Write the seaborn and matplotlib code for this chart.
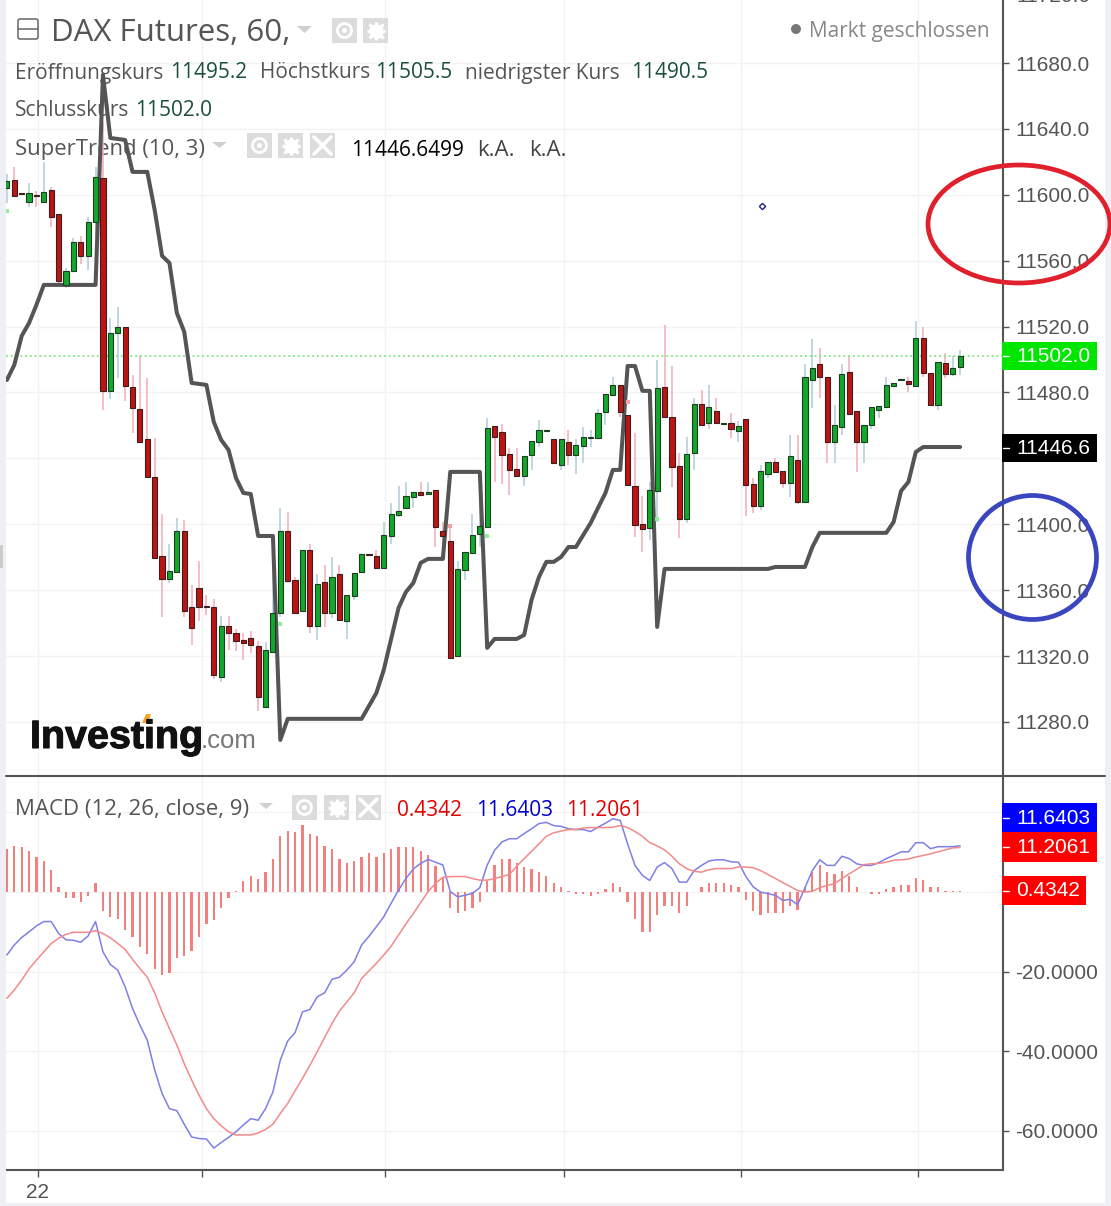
import numpy as np
import matplotlib
matplotlib.use("Agg")
import matplotlib.pyplot as plt
import seaborn as sns
from matplotlib.patches import Rectangle, Ellipse, Circle, FancyBboxPatch, Polygon
import matplotlib.patheffects as pe

# candles
opens = [11604.2, 11609, 11601.1, 11595.7, 11599.9, 11595.7, 11603, 11588.4, 11545.3, 11553.8,
         11571.4, 11562.9, 11583.5, 11610.3, 11481, 11516.2, 11519.8, 11483.4, 11470, 11451.8,
         11428.8, 11380.8, 11366.8, 11371.1, 11396, 11349.9, 11361.4, 11350.5, 11349.9, 11307.4,
         11338.3, 11334, 11329.8, 11331, 11326.2, 11289.1, 11322.5, 11346.2, 11396, 11366.2,
         11347.4, 11384.4, 11338.3, 11365, 11346.2, 11369.9, 11341.3, 11356.5, 11371.1, 11382,
         11380.8, 11373.5, 11393, 11405.7, 11409.9, 11416.6, 11419.6, 11418.4, 11420.8, 11396,
         11389.9, 11320.1, 11372.3, 11382.6, 11394.2, 11398.4, 11459.7, 11456, 11442.7, 11433.6,
         11429.4, 11442.1, 11450, 11456.7, 11451.8, 11436, 11450, 11442.1, 11447.6, 11452.4,
         11452.4, 11468.2, 11478.5, 11484.6, 11466.4, 11423.3, 11400.2, 11397.8, 11420.3, 11483.4,
         11465.2, 11435.4, 11403.3, 11443.3, 11473, 11461.5, 11468.8, 11460.9, 11461.5, 11456.7,
         11464, 11424.5, 11411.2, 11430.6, 11437.9, 11432.4, 11425.1, 11439.1, 11413.6, 11487.6,
         11497.4, 11489.5, 11450, 11459.1, 11492.5, 11468.8, 11450, 11460.3, 11469.4, 11471.2,
         11484, 11487.6, 11487, 11484, 11513.1, 11491.9, 11472.4, 11498, 11491.3, 11495.2]
closes = [11608.4, 11599.3, 11600.5, 11601.1, 11599.3, 11601.8, 11586.6, 11547.7, 11553.8, 11571.4,
          11562.9, 11583.5, 11610.9, 11481, 11516.2, 11519.8, 11484, 11470.6, 11450, 11428.8,
          11379.6, 11366.8, 11371.7, 11396, 11347.4, 11337.1, 11349.9, 11349.9, 11308.5, 11338.3,
          11334, 11329.2, 11328, 11326.8, 11295.2, 11323.7, 11346.2, 11396, 11365.6, 11346.2,
          11384.4, 11338.3, 11363.8, 11346.2, 11368, 11342, 11357.1, 11370.5, 11382, 11381.4,
          11373.5, 11393.6, 11406.3, 11408.1, 11417.2, 11419.6, 11417.8, 11419.6, 11398.4, 11393,
          11318.9, 11372.9, 11383.2, 11393.6, 11399, 11458.5, 11453, 11442.1, 11433, 11429.4,
          11441.5, 11450.6, 11457.3, 11457.3, 11437.3, 11451.8, 11442.1, 11448.2, 11453, 11453,
          11467.6, 11479.1, 11484.6, 11468.2, 11423.9, 11399.6, 11397.2, 11420.8, 11482.8, 11465.2,
          11434.8, 11403.3, 11442.7, 11473, 11460.3, 11471.2, 11461.5, 11461.5, 11457.9, 11459.7,
          11423.9, 11411.2, 11432.4, 11437.9, 11431.8, 11425.1, 11441.5, 11413.6, 11489.5, 11494.9,
          11489.5, 11450, 11460.3, 11491.3, 11467, 11450, 11460.3, 11471.2, 11471.9, 11484.6,
          11485.8, 11488.2, 11485.2, 11513.1, 11491.9, 11472.4, 11498.6, 11491.3, 11494.9, 11502]
highs = [11612.7, 11617, 11601.1, 11607.2, 11602.4, 11620, 11604.8, 11588.4, 11555.6, 11573.8,
         11575, 11586.6, 11617, 11643.6, 11525.2, 11531.9, 11519.8, 11490.7, 11502.8, 11488.9,
         11452.4, 11406.3, 11388.1, 11403.9, 11402.7, 11363.2, 11377.8, 11357.1, 11354.7, 11344.4,
         11344.4, 11336.5, 11334, 11335.3, 11329.2, 11328.6, 11375.3, 11410, 11407.5, 11368,
         11384.4, 11388.1, 11369.9, 11375.3, 11380.2, 11375.3, 11357.1, 11370.5, 11382, 11382,
         11384.4, 11401.4, 11413, 11423.3, 11425.7, 11419.6, 11425.7, 11425.7, 11420.8, 11401.4,
         11398.4, 11377.8, 11383.2, 11406.3, 11413, 11464.6, 11459.7, 11460.9, 11446.4, 11446.4,
         11441.5, 11450.6, 11463.4, 11457.3, 11451.8, 11451.8, 11457.3, 11451.8, 11459.1, 11457.3,
         11470, 11479.1, 11489.5, 11484.6, 11466.4, 11455.5, 11417.2, 11425.7, 11499.8, 11521,
         11496.1, 11443.3, 11453, 11476.7, 11481.6, 11484.6, 11476.7, 11461.5, 11467.6, 11462.7,
         11464, 11428.1, 11436, 11437.9, 11440.3, 11432.4, 11454.2, 11454.2, 11497.4, 11512.5,
         11507, 11489.5, 11472.5, 11497.4, 11502.2, 11468.8, 11460.3, 11471.2, 11471.9, 11489.5,
         11485.8, 11488.2, 11489.5, 11523.4, 11519.8, 11491.9, 11498.6, 11504, 11502.2, 11505.5]
lows = [11595.1, 11598.7, 11600.5, 11592.6, 11592.6, 11595.1, 11580.5, 11546.5, 11543.5, 11553.2,
        11558, 11554.4, 11574.4, 11469.4, 11476.1, 11488.9, 11474.9, 11455.5, 11449.4, 11428.8,
        11379.6, 11343.8, 11364.4, 11371.1, 11343.8, 11326.8, 11341.3, 11345, 11306.1, 11304.3,
        11323.7, 11323.1, 11317.7, 11321.9, 11286.7, 11289.1, 11322.5, 11343.8, 11364.4, 11345.6,
        11347.4, 11334, 11329.8, 11337.7, 11343.2, 11342, 11330.4, 11354.1, 11371.1, 11381.4,
        11373.5, 11373.5, 11388.1, 11404.5, 11409.9, 11409.9, 11417.8, 11417.8, 11386.3, 11381.4,
        11318.9, 11320.1, 11366.2, 11382.6, 11386.3, 11398.4, 11425.7, 11424.5, 11417.8, 11429.4,
        11423.3, 11433, 11447, 11456.7, 11437.3, 11433, 11436, 11430.6, 11437.3, 11447,
        11452.4, 11460.3, 11478.5, 11465.2, 11423.9, 11392.3, 11383.2, 11390.5, 11401.4, 11465.2,
        11422.7, 11391.7, 11400.8, 11433, 11460.3, 11457.9, 11461.5, 11460.9, 11452.4, 11450,
        11405.1, 11406.9, 11408.7, 11428.1, 11431.8, 11422.1, 11416.6, 11412.4, 11413.6, 11470.6,
        11476.7, 11437.3, 11437.3, 11454.2, 11467, 11431.8, 11437.3, 11457.9, 11464.6, 11470.6,
        11484, 11487.6, 11480.3, 11484, 11489.5, 11472.4, 11469.4, 11488.9, 11490.1, 11490.5]

# supertrend vertices
st_idx = [0, 1, 2, 3, 4, 5, 12, 13, 14, 16, 17, 19, 20, 21, 22, 23, 24, 25, 27, 28, 29, 30, 31, 32,
          33, 34, 36, 37, 38, 48, 50, 51, 53, 54, 55, 56, 57, 59, 60, 64, 65, 66, 69, 70, 71, 72,
          73, 74, 75, 76, 77, 79, 80, 81, 82, 83, 84, 85, 86, 87, 88, 89, 103, 104, 108, 109, 110,
          119, 120, 121, 122, 123, 124, 129]
st_val = [11487.6, 11496.7, 11514.3, 11522.2, 11533.2, 11545.3, 11545.3, 11672.8, 11634.5, 11633.3,
          11613.9, 11613.9, 11590.8, 11562.9, 11558.6, 11528.3, 11516.8, 11485.8, 11484.6, 11462.1,
          11451.2, 11445.1, 11428.1, 11419, 11418.4, 11392.9, 11392.9, 11269.1, 11281.9, 11281.9,
          11297.6, 11311.6, 11349.2, 11358.9, 11364.4, 11376.6, 11379, 11379, 11431.8, 11431.8,
          11325, 11330.4, 11330.4, 11332.8, 11354.1, 11368, 11377.2, 11377.2, 11380.2, 11386.2,
          11386.2, 11400.8, 11410, 11419, 11433, 11433, 11496.1, 11496.1, 11481, 11481, 11337.7,
          11372.9, 11372.9, 11374.1, 11374.1, 11386.2, 11394.8, 11394.8, 11401.4, 11420.2, 11425.7,
          11443.9, 11446.9, 11446.9]

buy_idx = [0, 37, 65, 88]
buy_val = [11590.2, 11339.5, 11392.9, 11403.3]
sell_idx = [60, 84]
sell_val = [11399, 11474.3]

# macd pane
macd_hist = [10.7, 11.6, 11.2, 10.3, 8.8, 7.9, 5.5, 1.3, -1.4, -1.4,
             -2.4, -0.9, 2.2, -4.7, -6.2, -6.7, -9.5, -11.3, -13.7, -15.6,
             -19.3, -20.8, -20.3, -16.5, -16, -14.7, -11.3, -8, -7, -3.9,
             -1.6, 0.3, 2.7, 4.1, 3.2, 5.1, 8.4, 14.1, 15.4, 15,
             16.8, 14.5, 14.1, 11.6, 10.7, 8.4, 7.4, 7.9, 8.8, 9.7,
             8.8, 9.7, 10.7, 11.2, 11.2, 11.2, 10.3, 9.3, 6.5, 3.7,
             -3.9, -5.2, -4.8, -3.9, -2.5, 2.9, 6.9, 8.2, 8.2, 7.4,
             6.4, 5.9, 5, 4.1, 2.2, 1.3, 0.3, -0.4, -0.4, -1,
             -0.4, 0.8, 2.2, 1.3, -2.5, -6.7, -10, -10, -5.8, -3.4,
             -3.4, -5.3, -3.4, 0, 1.3, 2.2, 2.2, 2.2, 1.7, 1.3,
             -2.1, -4.8, -5.8, -5.3, -5.3, -5.3, -3.4, -4.4, 1.3, 5,
             6.9, 5, 4.5, 5.4, 4.1, 1.3, 0, -0.5, -0.5, 0.7,
             1.3, 1.7, 1.7, 3.6, 3.1, 1.3, 1.3, 0.3, 0.3, 0.3]
macd_line = [-15.8, -13.3, -11.4, -10, -8.5, -7.4, -7.4, -10.4, -12, -12.1,
             -12.6, -11, -7.4, -15, -18.2, -19.6, -23.8, -29.2, -33.4, -37.2,
             -44.7, -50.6, -54.4, -54.9, -58.3, -61.5, -61.9, -62, -64.3, -62.9,
             -61.6, -60.2, -58.5, -56.9, -57.3, -54.4, -50.2, -42.2, -37.4, -35.3,
             -30.1, -29.5, -26.3, -25.3, -21.9, -21.4, -19.6, -17.5, -13.3, -11.1,
             -8.7, -6.2, -2.8, 0.5, 3.4, 5.8, 7.2, 8.2, 7.5, 6.8,
             0.1, -1.2, -0.8, -0.3, 1.1, 6.8, 10.5, 12.6, 13.4, 13.4,
             14.7, 15.9, 17.2, 17.5, 16.7, 16.5, 15.9, 15.7, 15.7, 15.2,
             16.3, 17.3, 18.4, 18, 12.1, 6.7, 4.2, 2.9, 6.3, 7.4,
             5.9, 2.5, 2.5, 5.4, 6.7, 7.8, 8.1, 8.1, 7.6, 7.5,
             3.9, 1.3, 0, -0.4, -0.8, -2.1, -1.8, -3.2, 1.1, 5.4,
             8.1, 6.7, 6.7, 9, 8.4, 7.1, 6.7, 6.7, 7.4, 8.4,
             9.2, 10.1, 10.1, 12.4, 12.4, 10.9, 11.4, 11.4, 11.4, 11.6403]
signal_line = [-26.7, -24.6, -22.1, -19.3, -17.1, -15, -12.9, -11.6, -10.6, -10.1,
               -10.1, -10.1, -9.7, -10.4, -11.5, -12.9, -14.4, -16.9, -19.2, -21.4,
               -25.3, -30.1, -34.3, -38.4, -43.1, -47.2, -51, -54.4, -56.9, -58.7,
               -60.2, -61, -61, -61, -60.5, -59.6, -58.3, -55.6, -53.1, -49.9,
               -46.8, -43.5, -40.1, -36.5, -33, -29.9, -27.6, -25.3, -21.7, -19.8,
               -17.9, -15.8, -13.6, -10.8, -8, -5.4, -2.6, 0.1, 2.2, 3.7,
               3.9, 3.9, 3.9, 3.4, 3, 3, 3.4, 3.9, 4.4, 6.5,
               8.4, 10.2, 12.1, 14, 14.9, 15.3, 15.7, 15.7, 16.1, 16.2,
               16.2, 16.2, 16.3, 16.7, 16.2, 15.2, 14, 12.4, 11.6, 10.6,
               9, 7.1, 5.9, 5.2, 5, 5.6, 5.9, 5.9, 5.9, 6.3,
               6.3, 6.1, 5.4, 4.4, 3.4, 2.4, 1.4, 0.4, 0, 0.2,
               1.1, 1.7, 2.1, 3.4, 4.6, 5.7, 6.9, 7.1, 7.2, 7.5,
               8, 8.1, 8.3, 8.8, 9.2, 9.6, 10.1, 10.6, 11.1, 11.2061]

price_ticks = [11280, 11320, 11360, 11400, 11440, 11480, 11520, 11560, 11600, 11640, 11680]
price_labels = ["11280.0", "11320.0", "11360.0", "11400.0", "", "11480.0", "11520.0", "11560.0",
                "11600.0", "11640.0", "11680.0"]
macd_ticks = [20, 0, -20, -40, -60]
macd_labels = ["", "", "-20.0000", "-40.0000", "-60.0000"]
time_ticks = [4.2, 26.4, 51.2, 75.4, 99.3, 123.3]
time_labels = ["22", "", "", "", "", ""]

W, H = 1111, 1206
TXT = "#555555"
AXIS_FS = 15
sns.set_theme(style="white")
plt.rcParams["font.family"] = ["Liberation Sans", "DejaVu Sans"]

fig = plt.figure(figsize=(W / 100, H / 100), dpi=100, facecolor="white")


def pixel_axes(z):
    a = fig.add_axes([0, 0, 1, 1], zorder=z)
    a.set_xlim(0, W)
    a.set_ylim(H, 0)
    a.axis("off")
    a.patch.set_alpha(0)
    return a


price_pos = [6 / W, (H - 776) / H, 997 / W, 776 / H]
macd_pos = [6 / W, (H - 1170) / H, 997 / W, 393 / H]
xlims = (-0.12, 134.8)
price_lims = (11247.2, 11718.25)
macd_lims = (-69.8, 28.9)

# grid goes in its own axes below the legend text
for pos, yl, yt in ((price_pos, price_lims, price_ticks), (macd_pos, macd_lims, macd_ticks)):
    g = fig.add_axes(pos, zorder=-1)
    g.set_xlim(*xlims)
    g.set_ylim(*yl)
    g.set_xticks(time_ticks, [""] * 6)
    g.set_yticks(yt, [""] * len(yt))
    g.tick_params(left=False, bottom=False)
    g.grid(True, color="#f3f3f6", lw=1)
    for s in g.spines.values():
        s.set_visible(False)

under = pixel_axes(0)
over = pixel_axes(5)

ax = fig.add_axes(price_pos, zorder=2)
ax2 = fig.add_axes(macd_pos, zorder=2)
ax.patch.set_alpha(0)
ax2.patch.set_alpha(0)

idx = np.arange(len(opens))
opens_a, closes_a = np.array(opens), np.array(closes)
up = closes_a >= opens_a
body_low = np.minimum(opens_a, closes_a)
body_h = np.abs(closes_a - opens_a)

ax.vlines(idx[up], np.array(lows)[up], np.array(highs)[up], color="#b5cfdb", lw=1.2, zorder=1)
ax.vlines(idx[~up], np.array(lows)[~up], np.array(highs)[~up], color="#f2b3bb", lw=1.2, zorder=1)
sns.lineplot(x=st_idx, y=st_val, ax=ax, color="#555555", lw=2.9, estimator=None, sort=False, zorder=2)
ax.bar(idx[up], body_h[up], bottom=body_low[up], width=0.7, color="#12a82c", edgecolor="#1d3d20", lw=0.8, zorder=3)
ax.bar(idx[~up], body_h[~up], bottom=body_low[~up], width=0.7, color="#bd1414", edgecolor="#3d1d1d", lw=0.8, zorder=3)
sns.scatterplot(x=buy_idx, y=buy_val, ax=ax, color="#8ff09a", marker="s", s=7, linewidth=0, zorder=2)
sns.scatterplot(x=sell_idx, y=sell_val, ax=ax, color="#f7a0a8", marker="s", s=7, linewidth=0, zorder=2)
ax.plot([102.2], [11593.2], marker="D", ms=3.2, mfc="white", mec="#20208a", mew=1, zorder=4)
ax.axhline(11502, color="#7be87b", lw=1.3, ls=":", zorder=1)

sns.barplot(x=idx, y=macd_hist, ax=ax2, native_scale=True, color="#f47f7f", saturation=1,
            width=0.31, linewidth=0, zorder=2)
sns.lineplot(x=idx, y=macd_line, ax=ax2, color="#7f7fe6", lw=1.1, estimator=None, zorder=3)
sns.lineplot(x=idx, y=signal_line, ax=ax2, color="#f28a8a", lw=1.1, estimator=None, zorder=3)

ax.set_xlim(*xlims)
ax2.set_xlim(*xlims)
ax.set_ylim(*price_lims)
ax2.set_ylim(*macd_lims)

for a in (ax, ax2):
    a.set_xlabel("")
    a.set_ylabel("")
    a.yaxis.tick_right()
    a.grid(False)
    for s in a.spines.values():
        s.set_visible(False)
    a.spines["right"].set_visible(True)
    a.spines["right"].set_color(TXT)
    a.spines["right"].set_linewidth(1.5)
    a.tick_params(axis="y", right=True, left=False, length=4.3, width=1, color=TXT, pad=4.5,
                  labelsize=AXIS_FS, labelcolor=TXT)

ax.set_yticks(price_ticks, price_labels)
ax.set_xticks(time_ticks, [""] * 6)
ax.tick_params(axis="x", bottom=False)
ax2.set_yticks(macd_ticks, macd_labels)
ax2.set_xticks(time_ticks, time_labels)
ax2.spines["bottom"].set_visible(True)
ax2.spines["bottom"].set_color(TXT)
ax2.spines["bottom"].set_linewidth(1.5)
ax2.tick_params(axis="x", bottom=True, length=5, width=1, color=TXT, pad=4, labelsize=AXIS_FS,
                labelcolor=TXT)


# legend text sits under the chart lines
def ltext(x, y, s, color=TXT, size=15):
    under.text(x, y, s, color=color, fontsize=size, family="Open Sans", va="center", ha="left")


def triangle(x0, x1, y0, y1):
    under.add_patch(Polygon([(x0, y0), (x1, y0), ((x0 + x1) / 2, y1)], color="#cfcfcf", lw=0))


def icon_box(x, y, kind):
    under.add_patch(Rectangle((x, y), 25, 25, color="#dcdcdc", lw=0))
    cx, cy = x + 12.5, y + 12.5
    if kind == "eye":
        under.add_patch(Circle((cx, cy), 7, fc="none", ec="white", lw=2))
        under.add_patch(Circle((cx, cy), 2.5, fc="white", lw=0))
    elif kind == "gear":
        under.plot([cx], [cy], marker="8", ms=9.5, mfc="white", mec="white", ls="")
        under.plot([cx], [cy], marker="+", ms=13, mec="white", mew=2.4, ls="")
        under.plot([cx], [cy], marker="x", ms=10.5, mec="white", mew=2.4, ls="")
        under.add_patch(Circle((cx, cy), 2.8, fc="#dcdcdc", lw=0))
    else:
        under.plot([x + 4, x + 21], [y + 4, y + 21], color="white", lw=2.6)
        under.plot([x + 4, x + 21], [y + 21, y + 4], color="white", lw=2.6)


GREEN_NUM = "#1b4f3d"
under.add_patch(FancyBboxPatch((18, 19), 20, 20, boxstyle="round,pad=0,rounding_size=2",
                               fc="white", ec="#666666", lw=1.1))
under.plot([18, 38], [29, 29], color="#666666", lw=1.1)
ltext(51, 33, "DAX Futures, 60,", size=22.5)
triangle(297, 312, 26, 33)
icon_box(332, 18, "eye")
icon_box(363, 18, "gear")
under.add_patch(Circle((796, 29), 5, fc="#777777", lw=0))
ltext(809, 31, "Markt geschlossen", color="#888888", size=15)

ltext(15, 73, "Eröffnungskurs")
ltext(170, 73, "11495.2", GREEN_NUM)
ltext(260, 73, "Höchstkurs")
ltext(375, 73, "11505.5", GREEN_NUM)
ltext(465, 73, "niedrigster Kurs")
ltext(631, 73, "11490.5", GREEN_NUM)
ltext(15, 111, "Schlusskurs")
ltext(135, 111, "11502.0", GREEN_NUM)
ltext(15, 150, "SuperTrend (10, 3)", size=15.9)
triangle(212, 227, 142, 148)
icon_box(247, 133, "eye")
icon_box(278, 133, "gear")
icon_box(310, 133, "x")
ltext(351, 150, "11446.6499", "black")
ltext(477, 150, "k.A.", "#444444", size=16)
ltext(529, 150, "k.A.", "#444444", size=16)

ltext(15, 810, "MACD (12, 26, close, 9)", size=16)
triangle(259, 273, 803, 809)
icon_box(292, 795, "eye")
icon_box(324, 795, "gear")
icon_box(356, 795, "x")
ltext(397, 811, "0.4342", "#e00000")
ltext(476, 811, "11.6403", "#0000cc")
ltext(566, 811, "11.2061", "#e00000")

# page edges and pane divider
over.add_patch(Rectangle((0, 0), 6, H, color="#eef0f5", lw=0))
over.add_patch(Rectangle((1105, 0), 6, H, color="#eef0f5", lw=0))
over.add_patch(Rectangle((0, 1203), W, 3, color="#eef0f5", lw=0))
over.add_patch(Rectangle((0, 545), 3, 23, color="#cccccc", lw=0))
over.plot([6, 1105], [776, 776], color=TXT, lw=1.5)
over.text(1016, -3, "11720.0", color=TXT, fontsize=AXIS_FS, va="center", ha="left")


def tag(x0, x1, y0, y1, color, s):
    over.add_patch(Rectangle((x0, y0), x1 - x0, y1 - y0, color=color, lw=0))
    ym = (y0 + y1) / 2
    over.plot([x0 + 1, x0 + 7], [ym, ym], color="white", lw=1)
    over.text(1016, ym + 0.5, s, color="white", fontsize=AXIS_FS, va="center", ha="left")


tag(1002, 1097, 342, 370, "#00e600", "11502.0")
tag(1002, 1097, 434, 462, "black", "11446.6")
tag(1002, 1097, 803, 832, "#0000ff", "11.6403")
tag(1002, 1097, 832, 862, "#ff0000", "11.2061")
tag(1002, 1086, 876, 905, "#ff0000", "0.4342")

over.add_patch(Ellipse((1019, 224), 182, 118, fc="none", ec="#e0202c", lw=3.4))
over.add_patch(Ellipse((1032.5, 557.5), 128, 124, fc="none", ec="#3a46c0", lw=3.4))

over.text(30, 748, "Investing", color="#111111", fontsize=28.4, weight="bold", va="baseline",
          path_effects=[pe.withStroke(linewidth=0.8, foreground="#111111")])
over.text(201, 748, ".com", color="#777777", fontsize=18.5, va="baseline")
over.add_patch(Polygon([(142, 723), (146, 714), (151, 714), (148, 723)], color="#f5a623", lw=0))

fig.savefig("out.png", dpi=100)
